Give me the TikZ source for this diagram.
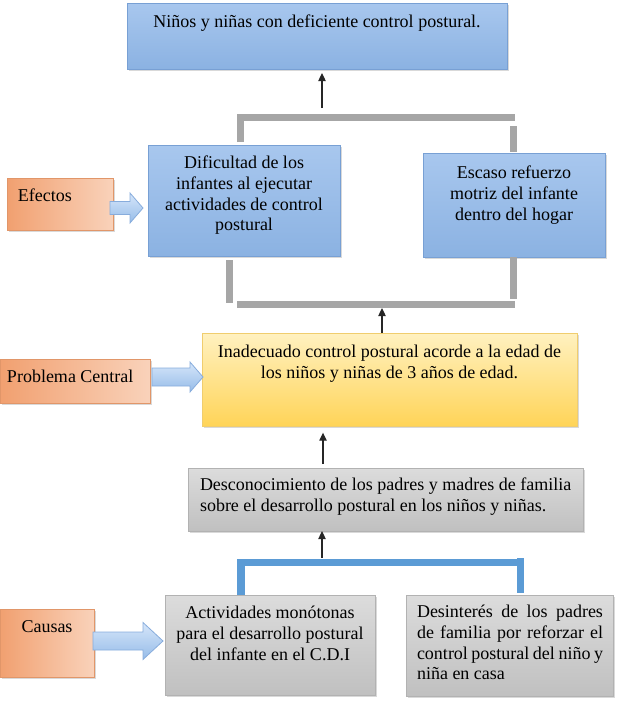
\documentclass[tikz,border=0pt]{standalone}
\usepackage{fontspec}
\setmainfont{Liberation Serif}
\usetikzlibrary{arrows.meta,calc,shadows}
\newlength\pxu \setlength\pxu{0.75pt}
\definecolor{bluetop}{RGB}{168,199,238}
\definecolor{bluebot}{RGB}{139,178,226}
\definecolor{blueline}{RGB}{120,160,212}
\definecolor{graytop}{RGB}{220,220,220}
\definecolor{graybot}{RGB}{192,192,192}
\definecolor{grayline}{RGB}{178,178,178}
\definecolor{yeltop}{RGB}{255,241,192}
\definecolor{yelbot}{RGB}{255,212,88}
\definecolor{yelline}{RGB}{240,205,110}
\definecolor{orA}{RGB}{241,160,112}
\definecolor{orB}{RGB}{249,210,186}
\definecolor{orline}{RGB}{225,150,105}
\definecolor{arrtop}{RGB}{214,230,250}
\definecolor{arrbot}{RGB}{150,188,232}
\definecolor{arrline}{RGB}{135,172,220}
\definecolor{barg}{RGB}{166,166,166}
\definecolor{barb}{RGB}{91,155,213}
\newcommand\bx[5]{\parbox[c][#2\pxu][t]{#1\pxu}{\vspace*{#3\pxu}#4\strut #5\par}}
\newcommand\barrowpath[5]{\path[barrowsty] (#1) ++(0,-#3) -- ++({#2-#5},0) -- ++(0,{#3-#4}) -- ++(#5,#4) -- ++(-#5,#4) -- ++(0,{#3-#4}) -- ++({#5-#2},0) -- cycle;}
\begin{document}
\begin{tikzpicture}[x=0.75pt,y=-0.75pt,
  font=\fontsize{13.5pt}{15.5pt}\selectfont,
  boxbase/.style={inner sep=0pt, outer sep=0pt, anchor=north west, line width=0.6pt,
    drop shadow={opacity=0.3, shadow xshift=1.3pt, shadow yshift=-1.5pt}},
  bluebox/.style={boxbase, draw=blueline, top color=bluetop, bottom color=bluebot},
  graybox/.style={boxbase, draw=grayline, top color=graytop, bottom color=graybot},
  yelbox/.style={boxbase, draw=yelline, top color=yeltop, bottom color=yelbot},
  orbox/.style={boxbase, draw=orline, left color=orA, right color=orB},
  barrowsty/.style={draw=arrline, line width=0.6pt, top color=arrtop, bottom color=arrbot},
  graybar/.style={draw=barg, line width=5.25pt},
  bluebar/.style={draw=barb, line width=5.6pt},
  tarr/.style={draw=black!85, line width=0.9pt, -{Triangle[length=6pt,width=5.5pt]}}]
\useasboundingbox (0,0) rectangle (617,714);

\node[bluebox] (top) at (127,3) {\bx{380}{66}{10.5}{\centering}{Niños y niñas con deficiente control postural.}};
\node[bluebox] (dif) at (148,145) {\bx{192}{111}{9.5}{\centering}{Dificultad de los\\infantes al ejecutar\\actividades de control\\postural}};
\node[bluebox] (esc) at (423,153) {\bx{182}{104}{11.5}{\centering}{Escaso refuerzo\\motriz del infante\\dentro del hogar}};
\node[orbox] (efx) at (7,178) {\bx{106}{52}{9.5}{\raggedright\leftskip=11\pxu}{Efectos}};
\node[orbox] (prob) at (0,359) {\bx{150}{44}{9.5}{\raggedright\leftskip=7\pxu}{Problema Central}};
\node[yelbox] (yel) at (202,333) {\bx{375}{93}{10.5}{\centering}{Inadecuado control postural acorde a la edad de\\los niños y niñas de 3 años de edad.}};
\node[graybox] (desc) at (188,468) {\bx{395}{63}{8.5}{\raggedright\leftskip=12\pxu}{Desconocimiento de los padres y madres de familia\\sobre el desarrollo postural en los niños y niñas.}};
\node[orbox] (cau) at (0,609) {\bx{94}{68}{9.5}{\centering}{Causas}};
\node[graybox] (act) at (165,595) {\bx{210}{100}{9.5}{\centering}{Actividades monótonas\\para el desarrollo postural\\del infante en el C.D.I}};
\node[graybox] (des) at (406,595) {\bx{207}{101}{8.5}{\leftskip=11\pxu}{\makebox[186\pxu][s]{Desinterés de los padres}\\\makebox[186\pxu][s]{de familia por reforzar el}\\\makebox[186\pxu][s]{control postural del niño y}\\niña en casa}};

% gray brackets (effects)
\draw[graybar] (240,142) -- (240,117.5) -- (515,117.5);
\draw[graybar] (513,126) -- (513,152);
\draw[graybar] (229.5,260) -- (229.5,303);
\draw[graybar] (237,304.5) -- (515,304.5);
\draw[graybar] (513.5,257) -- (513.5,299);
% blue bracket (causes)
\draw[bluebar] (241,595) -- (241,562.5) -- (517,562.5);
\draw[bluebar] (520.5,558) -- (520.5,593);

% thin arrows
\coordinate (a1) at (322,108);
\draw[tarr, shorten >=3pt] (a1) -- (a1 |- top.south);
\coordinate (a2) at (382,308);
\draw[tarr] (a2 |- yel.north) -- (a2);
\coordinate (a3) at (323,464);
\draw[tarr, shorten >=5pt] (a3) -- (a3 |- yel.south);
\coordinate (a4) at (322,558);
\draw[tarr] (a4) -- (a4 |- desc.south);

% block arrows
\barrowpath{$(efx.east)+(-3,4)$}{33}{6.5}{15}{13}
\barrowpath{$(prob.east)+(2,-4)$}{51}{9}{15}{13}
\barrowpath{$(cau.east)+(-1,-2)$}{70}{9}{18.5}{20}
\end{tikzpicture}
\end{document}
